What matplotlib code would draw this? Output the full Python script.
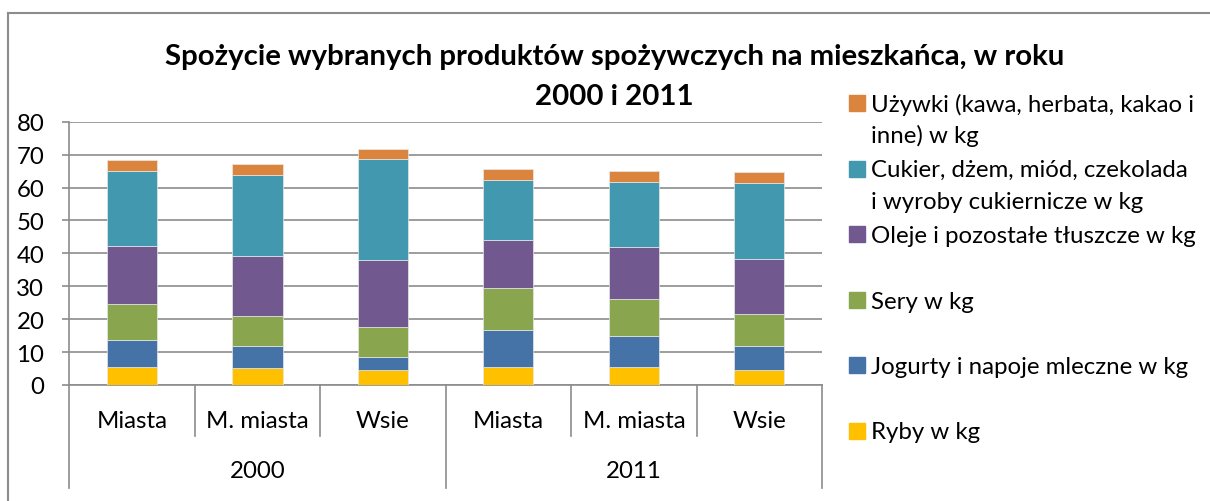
import matplotlib
matplotlib.use("Agg")
import matplotlib.pyplot as plt
from matplotlib.lines import Line2D
from matplotlib.patches import Rectangle
import numpy as np

plt.rcParams['font.family'] = ['Lato', 'DejaVu Sans']

years = ['2000', '2011']
categories = ['Miasta', 'M. miasta', 'Wsie', 'Miasta', 'M. miasta', 'Wsie']

series_names = [
    'Ryby w kg',
    'Jogurty i napoje mleczne w kg',
    'Sery w kg',
    'Oleje i pozostałe tłuszcze w kg',
    'Cukier, dżem, miód, czekolada i wyroby cukiernicze w kg',
    'Używki (kawa, herbata, kakao i inne) w kg',
]
ryby = [5.4, 5.1, 4.7, 5.4, 5.4, 4.6]
jogurty = [8.4, 6.6, 3.9, 11.4, 9.5, 7.4]
sery = [10.7, 9.3, 9.0, 12.6, 11.1, 9.5]
oleje = [17.6, 18.2, 20.3, 14.8, 16.0, 16.9]
cukier = [23.0, 24.7, 30.7, 18.2, 19.7, 23.1]
uzywki = [3.4, 3.1, 3.2, 3.1, 3.3, 3.2]
series_values = [ryby, jogurty, sery, oleje, cukier, uzywki]
colors = ['#FFC000', '#4572A7', '#89A54E', '#71588F', '#4198AF', '#DB843D']

# legend text lines (wrapped as in the reference), top to bottom
legend_lines = [
    ['Używki (kawa, herbata, kakao i', 'inne) w kg'],
    ['Cukier, dżem, miód, czekolada', 'i wyroby cukiernicze w kg'],
    ['Oleje i pozostałe tłuszcze w kg'],
    ['Sery w kg'],
    ['Jogurty i napoje mleczne w kg'],
    ['Ryby w kg'],
]

W, H = 1210, 502
fig = plt.figure(figsize=(W / 100, H / 100), dpi=100)

def fx(px):
    return px / W

def fy(py):
    return 1 - py / H

FS = 17.3

ax_left, ax_right, ax_top, ax_bot = 69.3, 822.0, 122.7, 386.0
ax = fig.add_axes([fx(ax_left), fy(ax_bot), (ax_right - ax_left) / W, (ax_bot - ax_top) / H])

x = np.arange(len(categories))
bottom = np.zeros(len(categories))
for vals, col, name in zip(series_values, colors, series_names):
    ax.bar(x, vals, width=0.4, bottom=bottom, color=col, edgecolor='#e8e8e8',
           linewidth=0.5, label=name, zorder=3)
    bottom += np.array(vals)

ax.set_xlim(-0.5, len(categories) - 0.5)
ax.set_ylim(0, 80)
ax.set_yticks(np.arange(0, 81, 10))
ax.yaxis.grid(True, color='#8c8c8c', linewidth=1.2, zorder=0)
ax.set_axisbelow(True)
for s in ['top', 'right']:
    ax.spines[s].set_visible(False)
ax.spines['left'].set_color('#8c8c8c')
ax.spines['left'].set_linewidth(1.2)
ax.spines['bottom'].set_color('#8c8c8c')
ax.spines['bottom'].set_linewidth(1.2)
ax.tick_params(axis='y', length=5, width=1.2, color='#8c8c8c', pad=13,
               labelsize=FS, labelcolor='black')
ax.set_xticks([])

axh = ax_bot - ax_top
xt = ax.get_xaxis_transform()
gcol = '#8c8c8c'
# inner separators (between categories in a group)
for b in [0.5, 1.5, 3.5, 4.5]:
    ax.plot([b, b], [0, -51 / axh], transform=xt, color=gcol, lw=1.2, clip_on=False)
# group separators
for b in [-0.5, 2.5, 5.5]:
    ax.plot([b, b], [0, -102.5 / axh], transform=xt, color=gcol, lw=1.2, clip_on=False)
for xi, c in zip(x, categories):
    ax.text(xi, -35.7 / axh, c, transform=xt, ha='center', va='center',
            fontsize=FS, color='black')
for gi, yv in enumerate(years):
    ax.text(gi * 3 + 1, -85.7 / axh, yv, transform=xt, ha='center', va='center',
            fontsize=FS, color='black')

# title
fig.text(fx(615), fy(65), 'Spożycie wybranych produktów spożywczych na mieszkańca, w roku',
         ha='center', va='baseline', fontsize=21.2, fontweight='bold')
fig.text(fx(614), fy(105), '2000 i 2011', ha='center', va='baseline',
         fontsize=21.2, fontweight='bold')

# legend
sq_centers = [104, 169.5, 235, 301, 366, 431.7]
baselines = [[111.7, 143.3], [176.7, 209.0], [242.7], [308.7], [374.0], [439.3]]
leg_colors = colors[::-1]
for cy, bl, lines, col in zip(sq_centers, baselines, legend_lines, leg_colors):
    fig.patches.append(Rectangle((fx(849), fy(cy + 8)), 16 / W, 16 / H,
                                 transform=fig.transFigure, color=col))
    for b, t in zip(bl, lines):
        fig.text(fx(870.7), fy(b), t, ha='left', va='baseline', fontsize=FS)

# chart area border
fig.lines.append(Line2D([fx(8), fx(1210)], [fy(14), fy(14)], transform=fig.transFigure,
                        color='#8c8c8c', lw=1.5))
fig.lines.append(Line2D([fx(8), fx(8)], [fy(14), fy(502)], transform=fig.transFigure,
                        color='#8c8c8c', lw=1.5))

fig.savefig('out.png', dpi=100)
